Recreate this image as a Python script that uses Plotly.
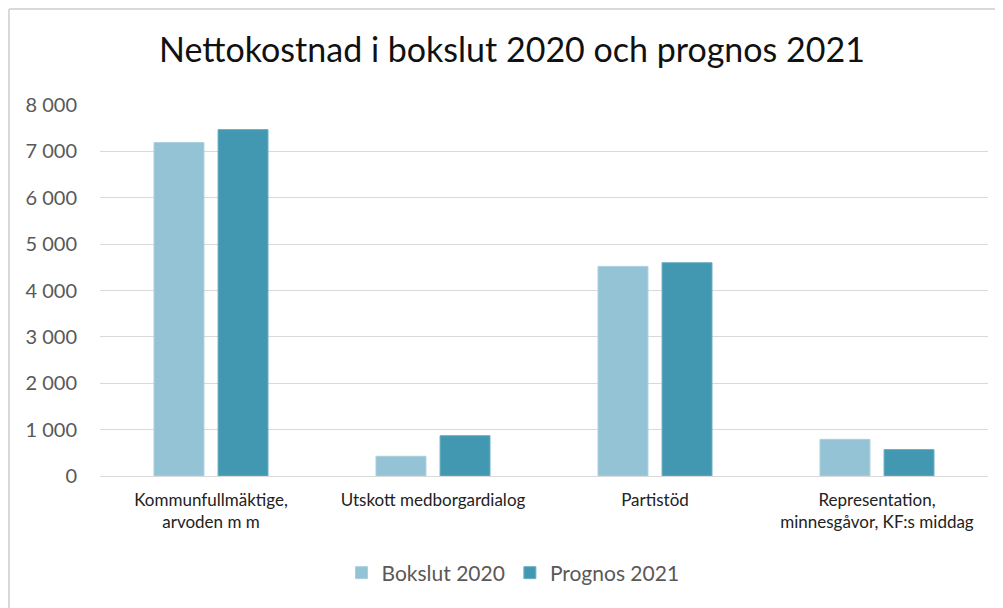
import plotly.graph_objects as go

categories = ["Kommunfullmäktige,<br>arvoden m m", "Utskott medborgardialog", "Partistöd",
              "Representation,<br>minnesgåvor, KF:s middag"]
bokslut_2020 = [7190, 425, 4520, 790]
prognos_2021 = [7470, 870, 4600, 570]
y_ticks = [0, 1000, 2000, 3000, 4000, 5000, 6000, 7000, 8000]

FONT = "Lato"
OFF = 8  # page offset of the figure in the screenshot
L, R, T, B = 92, 23, 97, 140
W, H = 1003, 608
pw = W - L - R
ph = H - T - B

def px(x):
    return (x - OFF - L) / pw

def py(y):
    return (H - B - (y - OFF)) / ph

fig = go.Figure()
fig.add_trace(go.Bar(name="Bokslut 2020", x=categories, y=bokslut_2020,
                     marker=dict(color="#93c3d5", line=dict(color="#a9d0de", width=1))))
fig.add_trace(go.Bar(name="Prognos 2021", x=categories, y=prognos_2021,
                     marker=dict(color="#4298b0", line=dict(color="#6cb0c4", width=1))))

fig.update_layout(
    width=W, height=H, autosize=False,
    margin=dict(l=L, r=R, t=T, b=B, autoexpand=False),
    paper_bgcolor="white", plot_bgcolor="white",
    separators=", ",
    barmode="group", bargap=0.423, bargroupgap=0.22,
    title=dict(text="Nettokostnad i bokslut 2020 och prognos 2021",
               font=dict(family=FONT, size=34, color="#111111"),
               x=px(512), xref="paper", xanchor="center",
               y=1 - (50 - OFF) / H, yref="container", yanchor="middle"),
    font=dict(family=FONT),
    legend=dict(orientation="h", x=px(513), xanchor="center",
                y=py(573), yanchor="middle",
                font=dict(family=FONT, size=21, color="#595959"),
                traceorder="normal"),
    showlegend=True,
)
fig.update_xaxes(showgrid=False, showline=False, ticks="", automargin=False, tickangle=0,
                 ticklabelstandoff=12,
                 tickfont=dict(family=FONT, size=17, color="#222222"))
fig.update_yaxes(range=[0, 8000], tickvals=y_ticks, tickformat=",d", automargin=False,
                 showgrid=True, gridcolor="#d9d9d9", gridwidth=1.3,
                 zeroline=True, zerolinecolor="#d9d9d9", zerolinewidth=1.3,
                 showline=False, ticks="", ticklabelstandoff=22,
                 tickfont=dict(family=FONT, size=20, color="#595959"))

# outer chart border
border = dict(color="#d9d9d9", width=2)
fig.add_shape(type="line", xref="paper", yref="paper", x0=px(OFF + 1), x1=px(1003 + OFF), y0=py(OFF + 1), y1=py(OFF + 1), line=border)
fig.add_shape(type="line", xref="paper", yref="paper", x0=px(OFF + 1), x1=px(OFF + 1), y0=py(OFF + 1), y1=py(608 + OFF), line=border)

fig.write_html("out.html")
